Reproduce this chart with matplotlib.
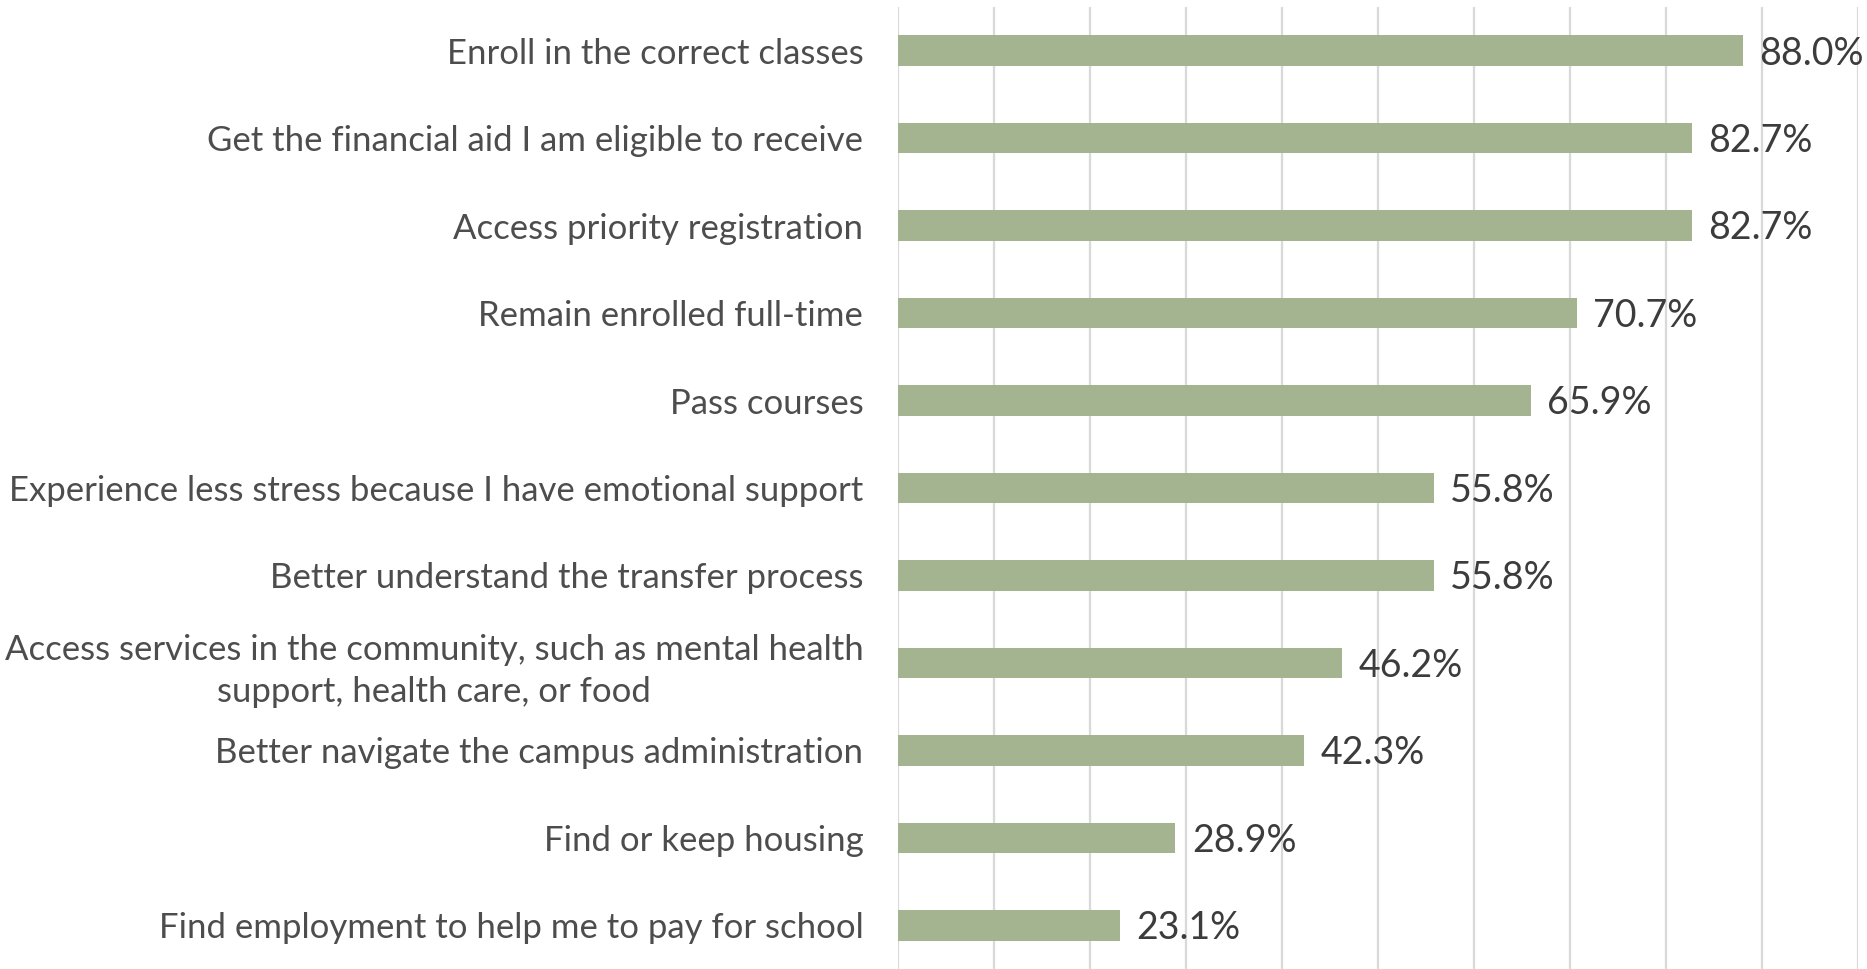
import numpy as np
import matplotlib.pyplot as plt

plt.rcParams["font.family"] = ["Lato", "DejaVu Sans"]

labels = [
    "Enroll in the correct classes",
    "Get the financial aid I am eligible to receive",
    "Access priority registration",
    "Remain enrolled full-time",
    "Pass courses",
    "Experience less stress because I have emotional support",
    "Better understand the transfer process",
    "Access services in the community, such as mental health\nsupport, health care, or food",
    "Better navigate the campus administration",
    "Find or keep housing",
    "Find employment to help me to pay for school",
]
values = [88.0, 82.7, 82.7, 70.7, 65.9, 55.8, 55.8, 46.2, 42.3, 28.9, 23.1]

bar_color = "#a5b490"
grid_color = "#d9d9d9"

fig = plt.figure(figsize=(18.67, 9.69), dpi=100)
ax = fig.add_axes([898 / 1867, 0.0, 960 / 1867, 1 - 7 / 969])

y = np.arange(len(values))
ax.barh(y, values, height=0.35, color=bar_color, zorder=2)

ax.set_xlim(0, 100)
ax.set_ylim(len(values) - 0.5, -0.5)
ax.set_xticks(np.arange(0, 101, 10))
ax.xaxis.grid(True, color=grid_color, linewidth=1.6, zorder=0)
ax.tick_params(axis="x", length=0, labelbottom=False)
ax.tick_params(axis="y", length=0, pad=25)
ax.set_yticks(y)
ax.set_yticklabels(labels, fontsize=25, color="#4d4d4d", linespacing=1.4,
                   multialignment="center")
for s in ax.spines.values():
    s.set_visible(False)

for yi, v in zip(y, values):
    ax.annotate(f"{v:.1f}%", (v, yi), xytext=(12, -2), textcoords="offset points",
                va="center", ha="left", fontsize=27, color="#3c3c3c",
                annotation_clip=False)

fig.savefig("out.png", dpi=100)
